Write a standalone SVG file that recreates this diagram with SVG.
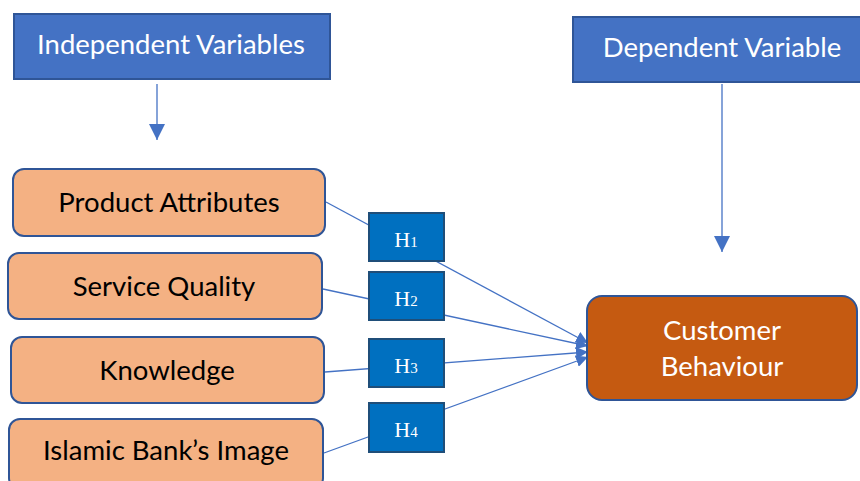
<svg xmlns="http://www.w3.org/2000/svg" width="860" height="481" viewBox="0 0 860 481">
<defs>
<style>
.hdr{fill:#4472C4;stroke:#2F5597;stroke-width:2}
.var{fill:#F4B183;stroke:#2F5597;stroke-width:2}
.hyp{fill:#0070C0;stroke:#1F4E79;stroke-width:2}
.dep{fill:#C55A11;stroke:#2F5597;stroke-width:2}
.lbl{font-family:Lato,"Open Sans",sans-serif;font-size:27.5px;text-anchor:middle}
.w{fill:#FFFFFF}
.k{fill:#000000}
.h{font-family:"Liberation Serif","Times New Roman",serif;font-size:22px;fill:#FFFFFF;text-anchor:middle}
.sub{font-size:15px}
.con{stroke:#4472C4;stroke-width:1.3;fill:none}
</style>
<marker id="ah" viewBox="0 0 10 10" refX="10" refY="5" markerWidth="12" markerHeight="12" markerUnits="userSpaceOnUse" orient="auto">
<path d="M0,0 L10,5 L0,10 z" fill="#4472C4"/>
</marker>
<marker id="ahb" viewBox="0 0 10 10" refX="10" refY="5" markerWidth="16" markerHeight="16" markerUnits="userSpaceOnUse" orient="auto">
<path d="M0,0 L10,5 L0,10 z" fill="#4472C4"/>
</marker>
</defs>
<rect width="860" height="481" fill="#FFFFFF"/>
<g id="connectors">
<line class="con" x1="157" y1="84" x2="157" y2="140" marker-end="url(#ahb)"/>
<line class="con" x1="722" y1="84" x2="722" y2="252" marker-end="url(#ahb)"/>
<line class="con" x1="326" y1="202" x2="588" y2="343" marker-end="url(#ah)"/>
<line class="con" x1="323" y1="289" x2="588" y2="346" marker-end="url(#ah)"/>
<line class="con" x1="325" y1="372" x2="588" y2="352" marker-end="url(#ah)"/>
<line class="con" x1="324" y1="453" x2="588" y2="357" marker-end="url(#ah)"/>
</g>
<g id="independent-variables">
<rect class="hdr" x="14" y="14" width="316" height="65"/>
<text class="lbl w" x="171" y="54">Independent Variables</text>
</g>
<g id="dependent-variable">
<rect class="hdr" x="573" y="17" width="292" height="65"/>
<text class="lbl w" x="722" y="57">Dependent Variable</text>
</g>
<g id="product-attributes">
<rect class="var" x="13" y="169" width="312" height="67" rx="11"/>
<text class="lbl k" x="169" y="212">Product Attributes</text>
</g>
<g id="service-quality">
<rect class="var" x="8" y="253" width="314" height="66" rx="11"/>
<text class="lbl k" x="164" y="296">Service Quality</text>
</g>
<g id="knowledge">
<rect class="var" x="11" y="337" width="313" height="66" rx="11"/>
<text class="lbl k" x="167" y="380">Knowledge</text>
</g>
<g id="islamic-banks-image">
<rect class="var" x="9" y="419" width="314" height="70" rx="11"/>
<text class="lbl k" x="166" y="460">Islamic Bank’s Image</text>
</g>
<g id="h1">
<rect class="hyp" x="369" y="213" width="75" height="48"/>
<text class="h" x="406" y="247">H<tspan class="sub">1</tspan></text>
</g>
<g id="h2">
<rect class="hyp" x="369" y="272" width="75" height="48"/>
<text class="h" x="406" y="306">H<tspan class="sub">2</tspan></text>
</g>
<g id="h3">
<rect class="hyp" x="369" y="339" width="75" height="48"/>
<text class="h" x="406" y="373">H<tspan class="sub">3</tspan></text>
</g>
<g id="h4">
<rect class="hyp" x="369" y="403" width="75" height="49"/>
<text class="h" x="406" y="437">H<tspan class="sub">4</tspan></text>
</g>
<g id="customer-behaviour">
<rect class="dep" x="587" y="296" width="270" height="104" rx="15"/>
<text class="lbl w" x="722" y="340">Customer</text>
<text class="lbl w" x="722" y="376">Behaviour</text>
</g>
</svg>
